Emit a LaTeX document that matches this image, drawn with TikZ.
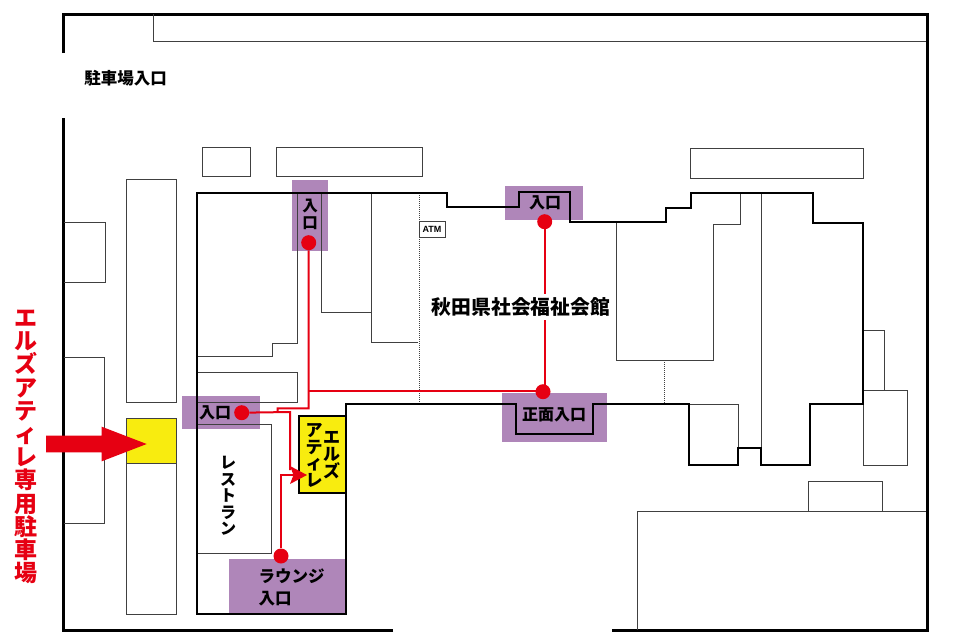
\documentclass[tikz,border=0pt]{standalone}
\usepackage{fontspec}
\newfontfamily\cjk{Noto Sans CJK JP}
\setsansfont{Liberation Sans}
\definecolor{purp}{HTML}{AF86B9}
\definecolor{rd}{HTML}{E60012}
\definecolor{yel}{HTML}{F8EC0F}
\definecolor{thin}{HTML}{404040}
\tikzset{
  frame/.style={draw=black,line width=3pt},
  wall/.style={draw=black,line width=2pt,line join=miter},
  part/.style={draw=thin,line width=1pt},
  dots/.style={draw=thin,line width=1pt,dash pattern=on 1pt off 1pt},
  pad/.style={fill=purp},
  route/.style={draw=rd,line width=2pt},
  dot/.style={circle,fill=rd,inner sep=0pt,minimum size=15pt},
  lab/.style={font=\cjk\bfseries\fontsize{16}{16.5}\selectfont,text=black,inner sep=0pt,align=center},
}
\begin{document}
\begin{tikzpicture}[x=1pt,y=-1pt]
\useasboundingbox (0,0) rectangle (960,640);
\fill[white] (0,0) rectangle (960,640);
% purple pads
\fill[pad] (292,179.5) rectangle (328,251);
\fill[pad] (504.5,186) rectangle (582.5,220);
\fill[pad] (502,393) rectangle (606.5,441.5);
\fill[pad] (181.5,395.5) rectangle (260,428.5);
\fill[pad] (228.5,558.5) rectangle (345.5,612.5);
% frame
\draw[frame] (63,53) -- (63,14) -- (927,14) -- (927,630) -- (612,630);
\draw[frame] (393,630) -- (63,630) -- (63,118);
\draw[part] (153,14) -- (153,41) -- (925.5,41);
% outside blocks
\draw[part] (64,222) -- (105,222) -- (105,282) -- (64,282);
\draw[part] (64,357.5) -- (104,357.5) -- (104,523) -- (64,523);
\draw[part] (126,179) rectangle (176,402);
\draw[part] (126,463) rectangle (176,614);
\draw[part,fill=yel] (126,418) rectangle (176,463);
\draw[part] (202,147) rectangle (250,176);
\draw[part] (276,147) rectangle (422,176);
\draw[part] (690,148) rectangle (863,178);
% lower right
\draw[part] (637,630) -- (637,511) -- (926,511);
\draw[part] (808,511) -- (808,481) -- (882,481) -- (882,511);
% right annexes
\draw[part] (863,330) -- (884,330) -- (884,390);
\draw[part] (863,390) rectangle (907,465);
% inner partitions
\draw[part] (197,356.5) -- (272.7,356.5) -- (272.7,343.3) -- (297.7,343.3) -- (297.7,193);
\draw[part] (197,372.7) -- (297.7,372.7) -- (297.7,402.3) -- (197,402.3);
\draw[part] (197,424) -- (271.7,424) -- (271.7,553) -- (197,553);
\draw[part] (321.7,193) -- (321.7,312.3) -- (371,312.3);
\draw[part] (371,193) -- (371,342) -- (418.3,342);
\draw[part] (616.3,222) -- (616.3,360) -- (713,360) -- (713,224) -- (740.5,224) -- (740.5,193);
\draw[part] (761.7,193) -- (761.7,448);
\draw[part] (689,404) -- (738,404) -- (738,448);
\draw[dots] (419,193) -- (419,402);
\draw[dots] (664.7,360) -- (664.7,403);
% building outline
\draw[wall] (345.7,403.5) -- (515.7,403.5) -- (515.7,434) -- (592.7,434) -- (592.7,404) -- (689,404) -- (689,464.5) -- (738,464.5) -- (738,448) -- (761,448) -- (761,464.5) -- (810,464.5) -- (810,404) -- (862.6,404) -- (862.6,223) -- (813,223) -- (813,193) -- (691,193) -- (691,208) -- (666,208) -- (666,221.7) -- (570,221.7) -- (570,191.5) -- (519,191.5) -- (519,207) -- (447,207) -- (447,193) -- (197,193) -- (197,614) -- (345.7,614) -- cycle;
% yellow room
\draw[wall,fill=yel] (299,416) rectangle (345.7,493);
% ATM
\node[draw=thin,line width=.8pt,fill=white,font=\sffamily\bfseries\fontsize{9}{9}\selectfont,minimum width=26pt,minimum height=16pt,inner sep=0pt] (atm) at (432,229.7) {ATM};
% dots
\node[dot] (da) at (308.7,242.7) {};
\node[dot] (db) at (544.7,221.7) {};
\node[dot] (dc) at (543,391.7) {};
\node[dot] (dd) at (241.7,412.7) {};
\node[dot] (de) at (281,556) {};
\coordinate (jn) at (308.5,391);
\coordinate (tip) at (307,475);
% routes
\draw[route] (db) -- (db |- dc);
\draw[route] (da) -- (308.5,408.3) -- (277.5,408.3) -- (277.5,412);
\draw[route] (jn) -- (jn -| dc);
\draw[route] (dd) -- (290,412) -- (290,470);
\draw[route] (de) -- (281,475) -- (295,475);
\fill[rd] (tip) -- (290,466) -- (293.5,475) -- (290,484) -- cycle;
% big arrow
\fill[rd] (46,435.7) -- (101.7,435.7) -- (101.7,426.7) -- (146.7,444) -- (101.7,461.3) -- (101.7,452.3) -- (46,452.3) -- cycle;
% labels
\node[lab,fill=white,inner xsep=1pt,inner ysep=4pt,font=\cjk\bfseries\fontsize{19.8}{20}\selectfont] (hall) at (521,307) {秋田県社会福祉会館};
\node[lab,font=\cjk\bfseries\fontsize{16.5}{17}\selectfont] (park) at (125.5,78) {駐車場入口};
\node[lab,font=\cjk\bfseries\fontsize{15.5}{16.7}\selectfont] (la) at (310,214.5) {入\\口};
\node[lab] (lb) at (545,203) {入口};
\node[lab] (lc) at (554,415) {正面入口};
\node[lab] (ld) at (215,413) {入口};
\node[lab,align=left,font=\cjk\bfseries\fontsize{16.5}{22}\selectfont] (le) at (291.7,587) {ラウンジ\\入口};
\node[lab,font=\cjk\bfseries\fontsize{16}{16.5}\selectfont] (rest) at (228,496) {レ\\ス\\ト\\ラ\\ン};
\node[lab,font=\cjk\bfseries\fontsize{17}{17}\selectfont] (y1) at (331.7,455) {エ\\ル\\ズ};
\node[lab,font=\cjk\bfseries\fontsize{17}{16.5}\selectfont] (y2) at (314,455.5) {ア\\テ\\ィ\\レ};
\node[lab,text=rd,font=\cjk\bfseries\fontsize{23}{23.2}\selectfont] (side) at (26,447) {エ\\ル\\ズ\\ア\\テ\\ィ\\レ\\専\\用\\駐\\車\\場};
\end{tikzpicture}
\end{document}
